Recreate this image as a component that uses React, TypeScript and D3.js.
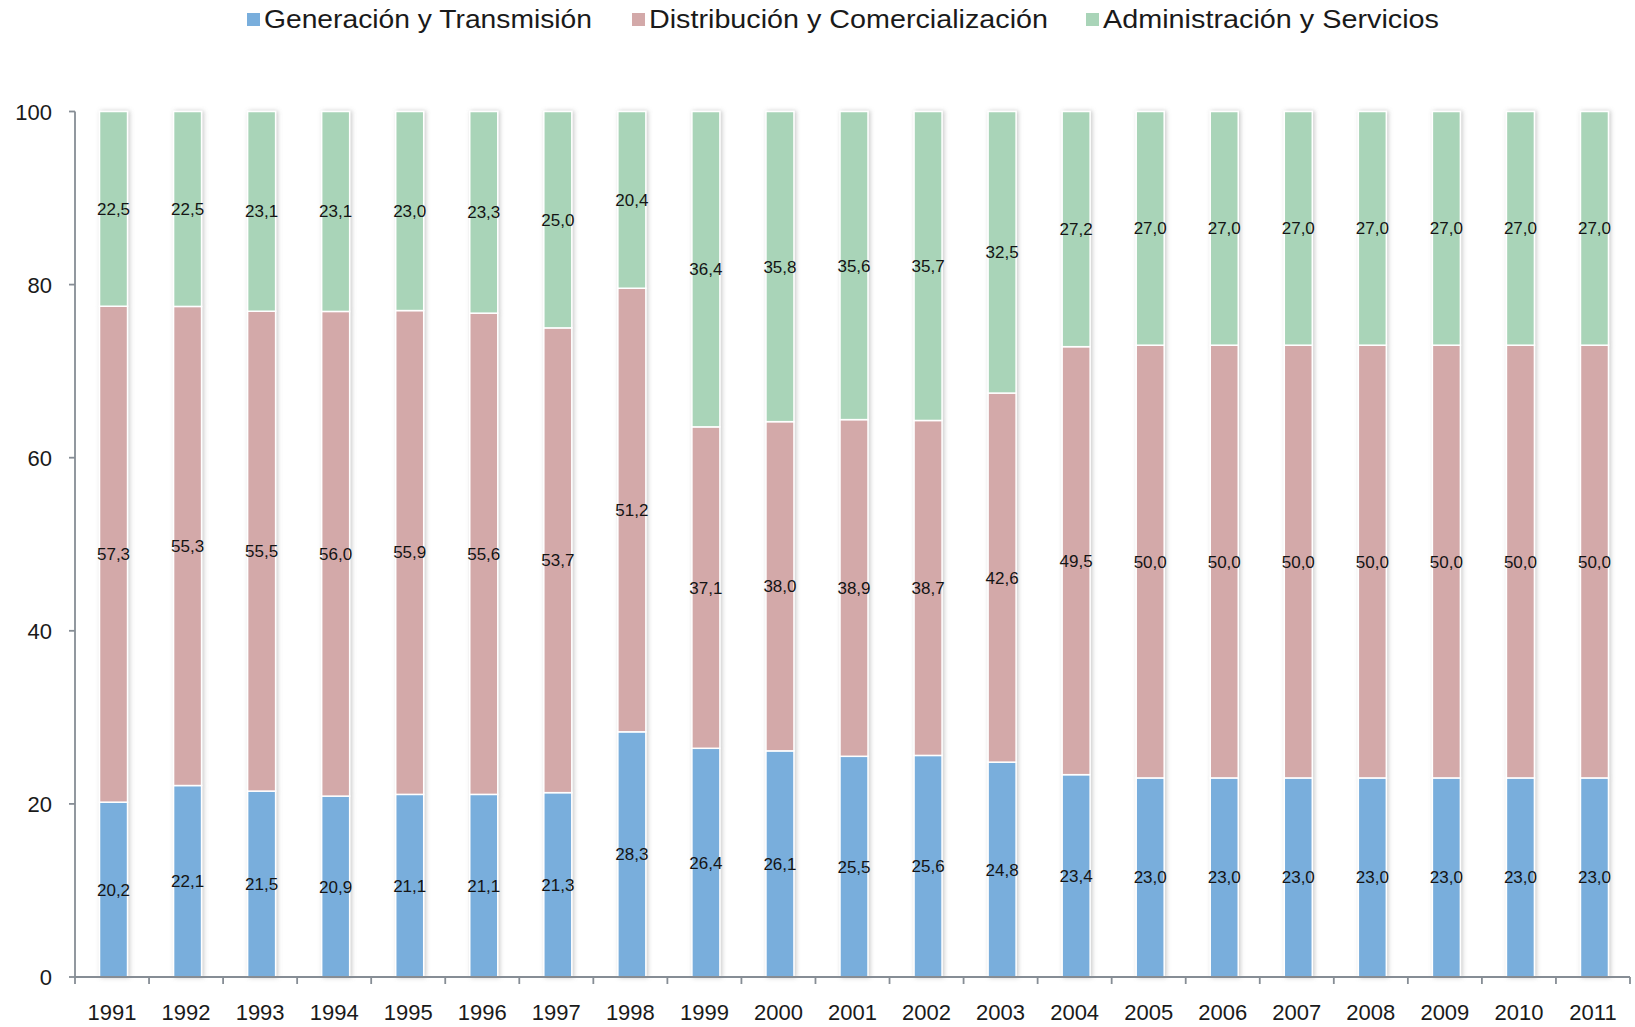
import React from "react";
import * as d3 from "d3";

const years = ["1991","1992","1993","1994","1995","1996","1997","1998","1999","2000","2001","2002","2003","2004","2005","2006","2007","2008","2009","2010","2011"];
const generacion = [20.2,22.1,21.5,20.9,21.1,21.1,21.3,28.3,26.4,26.1,25.5,25.6,24.8,23.4,23.0,23.0,23.0,23.0,23.0,23.0,23.0];
const distribucion = [57.3,55.3,55.5,56.0,55.9,55.6,53.7,51.2,37.1,38.0,38.9,38.7,42.6,49.5,50.0,50.0,50.0,50.0,50.0,50.0,50.0];
const administracion = [22.5,22.5,23.1,23.1,23.0,23.3,25.0,20.4,36.4,35.8,35.6,35.7,32.5,27.2,27.0,27.0,27.0,27.0,27.0,27.0,27.0];
const seriesNames = ["Generación y Transmisión","Distribución y Comercialización","Administración y Servicios"];
const seriesColors = ["#79aedc","#d3a9a9","#a9d4b8"];
const yTicks = [0,20,40,60,80,100];

const W = 1635, H = 1027;
const FONT = "'Liberation Sans', Arial, Helvetica, sans-serif";

export default function App() {
  const x = d3.scaleBand<string>().domain(years).range([75, 1630]).paddingInner(0).paddingOuter(0);
  const y = d3.scaleLinear().domain([0, 100]).range([977, 111.5]);
  const yFrac = d3.scaleLinear().domain([0, 1]).range([977, 111.5]);
  const step = x.step();
  const barW = 28;
  const keys = ["g", "d", "a"];
  const rows = years.map((yr, i) => ({ year: yr, g: generacion[i], d: distribucion[i], a: administracion[i] }));
  const stack = d3.stack<any>().keys(keys).offset(d3.stackOffsetExpand)(rows);
  const fmt = (v: number) => v.toFixed(1).replace(".", ",");

  const legendX = [264, 649, 1103];
  const legendW = [328, 399, 336];

  return (
    <svg width={W} height={H} style={{ position: "absolute", left: 0, top: 0, background: "#fff" }} fontFamily={FONT}>
      <defs>
        <filter id="sh" x="-30%" y="-5%" width="160%" height="110%">
          <feDropShadow dx="1.5" dy="0" stdDeviation="2" floodColor="#888" floodOpacity="0.45" />
        </filter>
      </defs>
      <rect width={W} height={H} fill="#fff" />
      {/* legend */}
      {seriesNames.map((n, i) => (
        <g key={n}>
          <rect x={legendX[i] - 17} y={13} width={13} height={13} fill={seriesColors[i]} />
          <text x={legendX[i]} y={28} fontSize={25} fill="#1a1a1a" textLength={legendW[i]} lengthAdjust="spacingAndGlyphs">{n}</text>
        </g>
      ))}
      {/* bars */}
      {years.map((yr, i) => {
        const cx = (x(yr) as number) + step / 2 + 1.5;
        return (
          <g key={yr} filter="url(#sh)">
            {stack.map((s, k) => (
              <rect key={k} x={cx - barW / 2} width={barW} y={yFrac(s[i][1])} height={yFrac(s[i][0]) - yFrac(s[i][1])}
                fill={seriesColors[k]} stroke="#fff" strokeWidth={1.5} />
            ))}
          </g>
        );
      })}
      {/* labels */}
      {years.map((yr, i) => {
        const cx = (x(yr) as number) + step / 2 + 1.5;
        return (
          <g key={"l" + yr}>
            {stack.map((s, k) => (
              <text key={k} x={cx} y={(yFrac(s[i][0]) + yFrac(s[i][1])) / 2 + 6} textAnchor="middle" fontSize={17} fill="#141414">
                {fmt((rows[i] as any)[keys[k]])}
              </text>
            ))}
          </g>
        );
      })}
      {/* y axis */}
      <line x1={75} x2={75} y1={y(100)} y2={y(0)} stroke="#868d95" strokeWidth={1.8} />
      {yTicks.map(t => (
        <g key={t}>
          <line x1={69} x2={75} y1={y(t)} y2={y(t)} stroke="#868d95" strokeWidth={1.8} />
          <text x={52} y={y(t) + 8} textAnchor="end" fontSize={22} fill="#1a1a1a">{t}</text>
        </g>
      ))}
      {/* x axis */}
      <line x1={75} x2={1630} y1={y(0)} y2={y(0)} stroke="#868d95" strokeWidth={1.8} />
      {years.concat(["end"]).map((yr, i) => {
        const xx = 75 + i * step;
        return <line key={"t" + i} x1={xx} x2={xx} y1={y(0)} y2={y(0) + 7} stroke="#868d95" strokeWidth={1.8} />;
      })}
      {years.map(yr => (
        <text key={"x" + yr} x={(x(yr) as number) + step / 2} y={1020} textAnchor="middle" fontSize={22} fill="#1a1a1a">{yr}</text>
      ))}
    </svg>
  );
}
